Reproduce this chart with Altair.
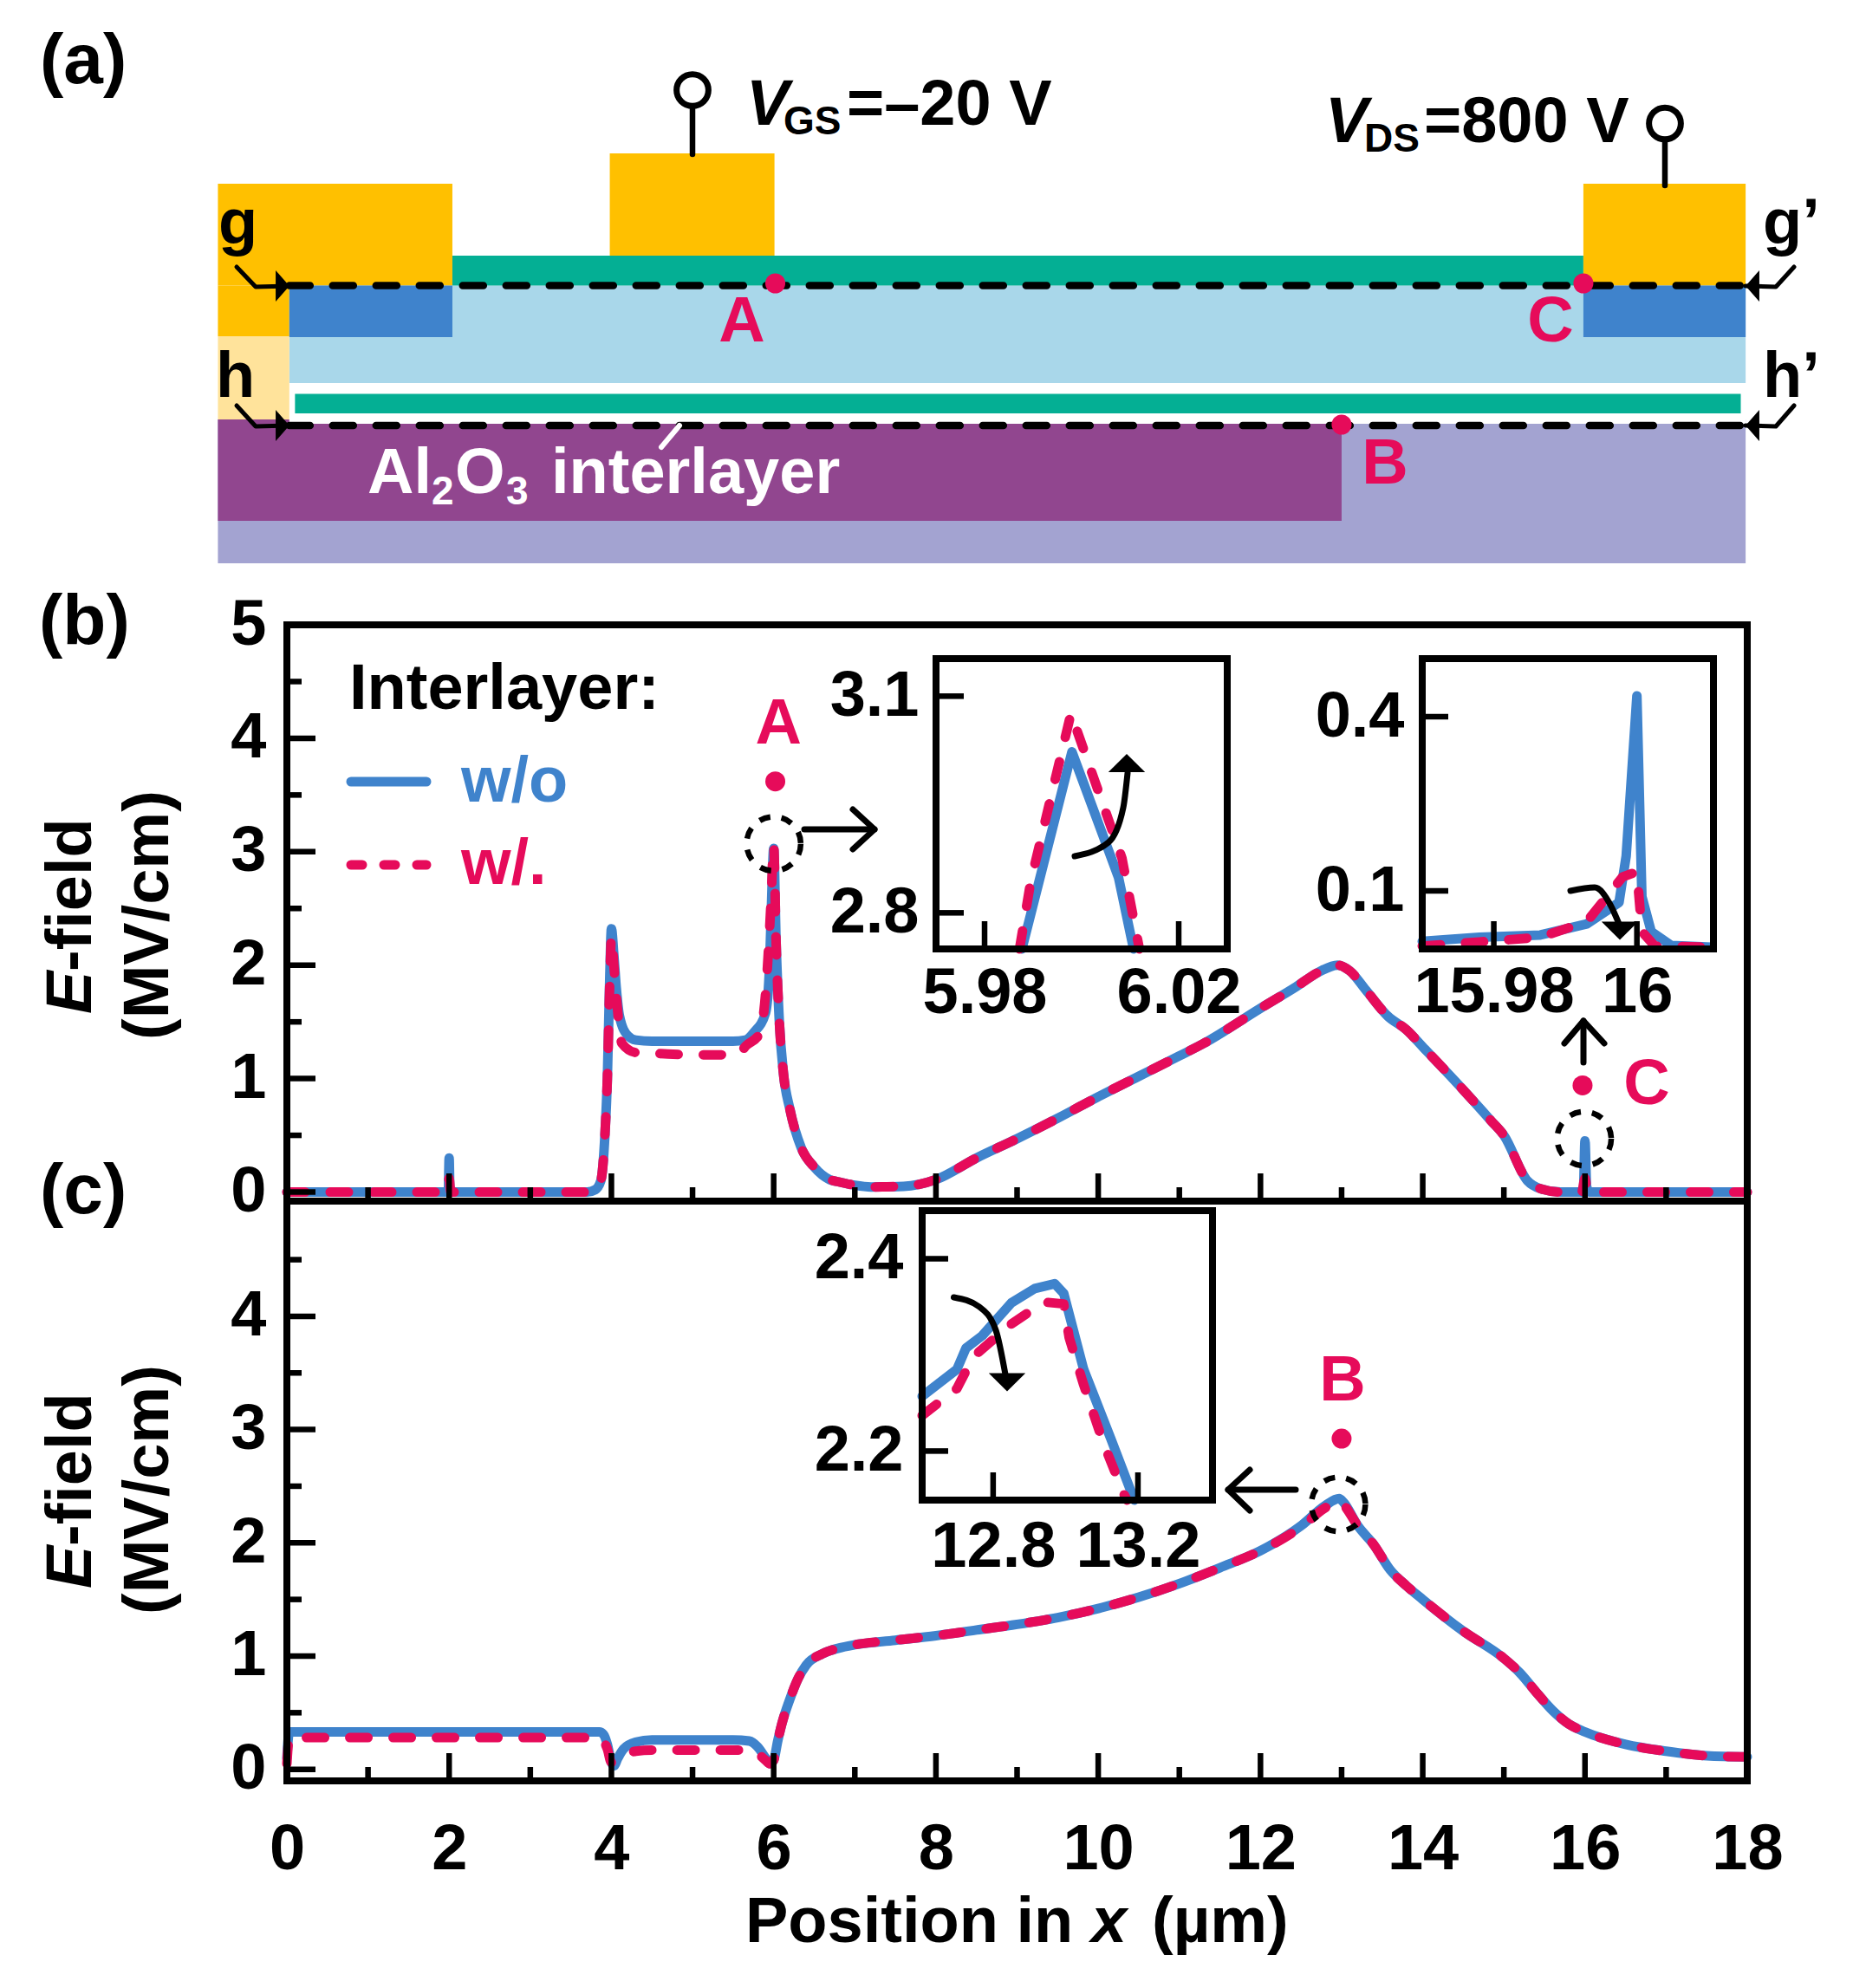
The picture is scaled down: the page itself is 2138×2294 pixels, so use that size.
import altair as alt
import pandas as pd

W, H = 2122, 2278
OFF = 8
FONT = "Liberation Sans"
BLUE, PINK = "#3F83CC", "#E60B5A"

# ---------- panel (b): field along g-g' ----------
b_x_wo = [0,1.97,1.99,2.0,2.01,2.03,3,3.7,3.8,3.87,3.92,3.95,3.98,4.0,4.03,4.06,4.1,4.2,4.3,4.5,5,5.5,5.65,5.76,5.9,5.95,5.98,6.0,6.03,6.07,6.12,6.2,6.34,6.5,6.69,6.8,7,7.2,7.6,8,8.5,9,9.5,10,10.5,11,11.3,12,12.44,12.72,12.95,13.1,13.3,13.57,13.8,14,14.5,14.84,15,15.29,15.45,15.7,15.96,15.98,16.0,16.02,16.05,17,18]
b_y_wo = [0,0,0,0.3,0,0,0,0,0.02,0.1,0.5,1.0,1.9,2.32,2.09,1.8,1.55,1.38,1.34,1.33,1.33,1.33,1.34,1.41,1.58,2.0,2.7,3.03,2.2,1.5,1.05,0.73,0.39,0.22,0.11,0.09,0.06,0.045,0.05,0.11,0.3,0.47,0.65,0.84,1.02,1.2,1.31,1.62,1.81,1.94,2.0,1.95,1.78,1.55,1.43,1.28,0.9,0.63,0.5,0.1,0.03,0,0,0,0.45,0.05,0,0,0]
b_x_w = [0,1.98,2.0,2.02,3,3.7,3.8,3.87,3.92,3.95,3.98,4.0,4.03,4.07,4.13,4.3,4.6,5,5.4,5.55,5.66,5.83,5.9,5.97,6.0,6.03,6.07,6.12,6.2,6.34,6.5,6.69,6.8,7,7.2,7.6,8,8.5,9,9.5,10,10.5,11,11.3,12,12.44,12.72,12.95,13.1,13.3,13.57,13.8,14,14.5,14.84,15,15.29,15.45,15.7,15.96,16.0,16.03,17,18]
b_y_w = [0,0,0.12,0,0,0,0.02,0.1,0.5,1.0,1.85,2.25,2.0,1.65,1.31,1.23,1.22,1.21,1.21,1.21,1.29,1.4,1.75,2.6,3.06,2.2,1.5,1.05,0.73,0.39,0.22,0.11,0.09,0.06,0.045,0.05,0.11,0.3,0.47,0.65,0.84,1.02,1.2,1.31,1.62,1.81,1.94,2.0,1.95,1.78,1.55,1.43,1.28,0.9,0.63,0.5,0.1,0.03,0,0,0.12,0,0,0]

# ---------- panel (c): field along h-h' ----------
c_x_wo = [0,0.03,0.1,1,2,3,3.85,3.9,3.95,4.0,4.03,4.08,4.15,4.3,4.5,5,5.5,5.7,5.8,5.9,5.95,6.0,6.05,6.1,6.2,6.3,6.4,6.6,6.8,7,7.5,8,8.5,9,9.5,10,10.5,11,11.5,12,12.5,12.8,12.97,13.02,13.2,13.4,13.6,13.8,14,14.5,15,15.2,15.4,15.6,15.8,16,16.5,17,17.5,18]
c_y_wo = [0.1,0.33,0.33,0.33,0.33,0.33,0.33,0.31,0.22,0.06,0.03,0.1,0.18,0.24,0.26,0.26,0.26,0.25,0.2,0.1,0.05,0.08,0.25,0.4,0.62,0.8,0.92,1.02,1.07,1.1,1.14,1.18,1.23,1.28,1.34,1.42,1.52,1.64,1.78,1.93,2.15,2.33,2.39,2.36,2.15,1.98,1.76,1.62,1.5,1.22,0.98,0.85,0.68,0.52,0.4,0.33,0.22,0.16,0.12,0.11]
c_x_w = [0,0.03,0.1,1,2,3,3.85,3.95,4.0,4.05,4.15,4.3,4.5,5,5.5,5.7,5.8,5.9,5.95,6.0,6.05,6.1,6.2,6.3,6.4,6.6,6.8,7,7.5,8,8.5,9,9.5,10,10.5,11,11.5,12,12.5,12.8,12.97,13.02,13.2,13.4,13.6,13.8,14,14.5,15,15.2,15.4,15.6,15.8,16,16.5,17,17.5,18]
c_y_w = [0.05,0.28,0.28,0.28,0.28,0.28,0.28,0.18,0.06,0.07,0.12,0.16,0.17,0.17,0.17,0.17,0.14,0.08,0.05,0.08,0.25,0.4,0.62,0.8,0.92,1.02,1.07,1.1,1.14,1.18,1.23,1.28,1.34,1.42,1.52,1.64,1.78,1.93,2.14,2.31,2.37,2.34,2.15,1.98,1.76,1.62,1.5,1.22,0.98,0.85,0.68,0.52,0.4,0.33,0.22,0.16,0.12,0.11]

# ---------- insets ----------
i1_x_wo = [5.9877,5.998,6.0076,6.0107]
i1_y_wo = [2.75,3.023,2.849,2.75]
i1_x_w = [5.9872,5.9895,5.9978,6.0083,6.0119]
i1_y_w = [2.75,2.843,3.076,2.876,2.75]
i2_x_wo = [15.97,15.978,15.9865,15.993,15.9975,15.9985,16.0,16.0007,16.002,16.0048,16.0105]
i2_y_wo = [0.013,0.02,0.024,0.043,0.08,0.16,0.436,0.09,0.03,0.006,0.003]
i2_x_w = [15.97,15.978,15.9865,15.993,15.998,16.0,16.0007,16.0025,16.0105]
i2_y_w = [0.005,0.012,0.02,0.047,0.124,0.133,0.03,0.005,0.003]
i3_x_wo = [12.604,12.70,12.725,12.77,12.85,12.915,12.97,12.995,13.05,13.125,13.19]
i3_y_wo = [2.257,2.285,2.307,2.32,2.354,2.369,2.374,2.364,2.285,2.213,2.149]
i3_x_w = [12.604,12.70,12.745,12.85,12.94,12.995,13.01,13.05,13.105,13.16,13.17]
i3_y_w = [2.237,2.265,2.298,2.332,2.355,2.353,2.318,2.269,2.208,2.156,2.149]

# ---------- schematic layers: x in um, y in page rows ----------
rect_left   = [-0.85,-0.85,0.03,0.03,0.1,-0.85,-0.85,-0.85,3.98,2.04,15.98,0.03,15.98]
rect_right  = [17.98,13,17.98,17.98,17.92,2.04,0.03,0.03,6.01,15.98,17.98,2.04,17.98]
rect_top    = [484,484,329.5,442,454.5,212,329.5,388,177,295,212,329.5,329.5]
rect_bottom = [650,601,442,489,477,329.5,388,484,295,329.5,329.5,389,389]
rect_colour = ["#A3A3D1","#91468F","#A9D7EA","#FFFFFF","#04AF94","#FFC000","#FFC000","#FFE39B","#FFC000","#04AF94","#FFC000","#3F83CC","#3F83CC"]


def cx():
    return alt.Scale(domain=[OFF, W + OFF], range=[0, W], nice=False, zero=False)


def cy():
    return alt.Scale(domain=[OFF, H + OFF], range=[0, H], nice=False, zero=False)


def sc(dom, p0, p1):
    return alt.Scale(domain=dom, range=[p0 - OFF, p1 - OFF], nice=False, zero=False)


def frame_xy(xs, ys):
    return pd.DataFrame({"x": xs, "y": ys, "i": range(len(xs))})


def label(text, x, y, size=74, color="black", style="normal", angle=0, align="left", weight="bold"):
    return alt.Chart(alt.Data(values=[{"t": text}])).mark_text(
        font=FONT, fontSize=size, fontWeight=weight, fontStyle=style, color=color,
        angle=angle, align=align, baseline="alphabetic",
    ).encode(x=alt.value(x - OFF), y=alt.value(y - OFF), text="t:N")


def poly(xs, ys, width=7, color="black", interp="linear", dash=None, xs_scale=None, ys_scale=None):
    kw = dict(color=color, strokeWidth=width, interpolate=interp, strokeCap="round", strokeJoin="round")
    if dash:
        kw["strokeDash"] = dash
    return alt.Chart(frame_xy(xs, ys)).mark_line(**kw).encode(
        x=alt.X("x:Q", scale=xs_scale or cx(), axis=None),
        y=alt.Y("y:Q", scale=ys_scale or cy(), axis=None),
        order="i:Q",
    )


def series(xs, ys, sx, sy, wo, interp="monotone"):
    if wo:
        return poly(xs, ys, 11, BLUE, interp, None, sx, sy)
    return poly(xs, ys, 11, PINK, interp, [21, 29], sx, sy)


def dots(xs, ys, sx, sy, size=415, **kw):
    return alt.Chart(frame_xy(xs, ys)).mark_point(size=size, **kw).encode(
        x=alt.X("x:Q", scale=sx, axis=None), y=alt.Y("y:Q", scale=sy, axis=None))


def pink_dot(x, y, sx, sy):
    return dots([x], [y], sx, sy, 530, filled=True, color=PINK, opacity=1, strokeWidth=0)


def ring(x, y, sx, sy):
    return dots([x], [y], sx, sy, 3900, filled=False, color="black", opacity=1, strokeWidth=6.5,
                strokeDash=[13, 13], shape="circle")


def axis(vals, orient, offset, pad, fmt):
    return alt.Axis(values=vals, orient=orient, offset=offset, ticks=False, domain=False, grid=False,
                    title=None, labelFont=FONT, labelFontSize=74, labelFontWeight="bold", labelColor="black",
                    labelPadding=pad, labelOverlap=False, labelFlush=False, labelBound=False, labelLimit=0,
                    format=fmt)


def vticks(vals, sx, y0, ln, ax=None):
    return alt.Chart(pd.DataFrame({"v": vals})).mark_rule(color="black", strokeWidth=6.5).encode(
        x=alt.X("v:Q", scale=sx, axis=ax),
        y=alt.value(y0 - OFF), y2=alt.value(y0 - OFF - ln))


def hticks(vals, sy, x0, ln, ax=None):
    return alt.Chart(pd.DataFrame({"v": vals})).mark_rule(color="black", strokeWidth=6.5).encode(
        y=alt.Y("v:Q", scale=sy, axis=ax),
        x=alt.value(x0 - OFF), x2=alt.value(x0 - OFF + ln))


def box(x0, x1, y0, y1, sw):
    d = pd.DataFrame({"a": [x0], "b": [x1], "c": [y0], "d": [y1]})
    return alt.Chart(d).mark_rect(fillOpacity=0, stroke="black", strokeWidth=sw).encode(
        x=alt.X("a:Q", scale=cx(), axis=None), x2="b:Q",
        y=alt.Y("c:Q", scale=cy(), axis=None), y2="d:Q")


def arrow(shaft_x, shaft_y, head_x, head_y):
    return [poly(shaft_x, shaft_y), poly(head_x, head_y)]


UP = "M-1,0.5L0,-0.5L1,0.5Z"
RIGHT = "M-0.44,-1L0.44,0L-0.44,1Z"


def head(x, y, angle=0, shape=UP, size=1800):
    return alt.Chart(frame_xy([x], [y])).mark_point(
        shape=shape, size=size, filled=True, color="black", opacity=1, strokeWidth=0, angle=angle
    ).encode(x=alt.X("x:Q", scale=cx(), axis=None), y=alt.Y("y:Q", scale=cy(), axis=None))


layers = []

# ---------- schematic ----------
dx = sc([0, 18], 331, 2016)
rects = pd.DataFrame({"l": rect_left, "r": rect_right, "t": rect_top, "b": rect_bottom, "c": rect_colour, "i": range(len(rect_left))})
layers.append(alt.Chart(rects).mark_rect().encode(
    x=alt.X("l:Q", scale=dx, axis=None), x2="r:Q",
    y=alt.Y("t:Q", scale=cy(), axis=None), y2="b:Q",
    color=alt.Color("c:N", scale=None), order="i:Q"))
layers.append(poly([0.03, 17.98], [329.5, 329.5], 8.5, "black", "linear", [24, 26], dx))
layers.append(poly([0.03, 17.98], [491, 491], 8.5, "black", "linear", [24, 26], dx))
layers.append(poly([784, 763], [491, 516], 6, "white"))
# section-line hooks
for yy, top in [(330, 308), (491, 468)]:
    layers.append(poly([273, 295, 334], [top, yy + 1, yy], 5))
    layers.append(poly([2070, 2049, 2014], [top, yy + 1, yy], 5))
    layers.append(head(326, yy, 0, RIGHT, 1296))
    layers.append(head(2022, yy, 180, RIGHT, 1296))
layers.append(pink_dot(6.02, 327, dx, cy()))
layers.append(pink_dot(15.98, 327, dx, cy()))
layers.append(pink_dot(13.0, 490, dx, cy()))
# terminals
layers.append(poly([799, 799], [124, 178], 6.5))
layers.append(poly([1921, 1921], [161, 214], 6.5))
layers.append(dots([799, 1921], [104, 142.5], cx(), cy(), 1350, filled=False, color="black", opacity=1, strokeWidth=7))

for args in [
    ("(a)", 46, 96, 82), ("(b)", 45, 743, 82), ("(c)", 46, 1400, 82),
    ("g", 252, 281, 74), ("g\u2019", 2034, 281, 74), ("h", 249, 458, 74), ("h\u2019", 2034, 458, 74),
]:
    layers.append(label(*args))
layers.append(label("A", 856, 394, 74, PINK, align="center"))
layers.append(label("C", 1789, 394, 74, PINK, align="center"))
layers.append(label("B", 1598, 558, 74, PINK, align="center"))
layers.append(label("V", 861, 144, 74, style="italic"))
layers.append(label("GS", 904, 155, 46))
layers.append(label("=\u201320 V", 977, 144, 74))
layers.append(label("V", 1529, 164, 74, style="italic"))
layers.append(label("DS", 1574, 175, 46))
layers.append(label("=800 V", 1643, 164, 74))
layers.append(label("Al", 424, 569, 74, "white"))
layers.append(label("2", 498, 582, 46, "white"))
layers.append(label("O", 525, 569, 74, "white"))
layers.append(label("3", 584, 582, 46, "white"))
layers.append(label("interlayer", 636, 569, 74, "white"))

# ---------- panel (b) ----------
L, R, Tb, Mb, Bc = 331, 2016, 721, 1386, 2055
bx = sc([0, 18], L, R)
by = sc([-0.08, 5.0], Mb, Tb)
cxs = sc([0, 18], L, R)
cys = sc([-0.102, 5.017], Bc, Mb)

layers.append(series(b_x_wo, b_y_wo, bx, by, True))
layers.append(series(b_x_w, b_y_w, bx, by, False))
layers.append(box(L, R, Tb, Mb, 8))
layers.append(vticks([2, 4, 6, 8, 10, 12, 14, 16], bx, Mb, 32))
layers.append(vticks([1, 3, 5, 7, 9, 11, 13, 15, 17], bx, Mb, 16))
layers.append(hticks([0, 1, 2, 3, 4, 5], by, L, 33, axis([0, 1, 2, 3, 4, 5], "left", -(L - OFF), 24, "d")))
layers.append(hticks([0.5, 1.5, 2.5, 3.5, 4.5], by, L, 17))

# legend
layers.append(label("Interlayer:", 403, 818))
layers.append(poly([405, 492], [902, 902], 11, BLUE))
layers.append(poly([405, 492], [998, 998], 11, PINK, "linear", [13, 25]))
layers.append(label("w/o", 532, 925, 74, BLUE))
layers.append(label("w/.", 532, 1020, 74, PINK))

# marker annotations panel (b)
layers.append(label("A", 6.06 * 93.6 + 331, 858, 74, PINK, align="center"))
layers.append(pink_dot(6.02, 3.62, bx, by))
layers.append(ring(6.0, 3.07, bx, by))
layers += arrow([928, 1009], [957, 957], [984, 1009, 984], [934, 957, 980])
layers.append(pink_dot(15.97, 0.94, bx, by))
layers.append(label("C", 1900, 1274, 74, PINK, align="center"))
layers.append(ring(15.99, 0.47, bx, by))
layers += arrow([1827, 1827], [1226, 1178], [1805, 1827, 1851], [1204, 1178, 1204])

# ---------- panel (c) ----------
layers.append(series(c_x_wo, c_y_wo, cxs, cys, True))
layers.append(series(c_x_w, c_y_w, cxs, cys, False))
layers.append(box(L, R, Mb, Bc, 8))
layers.append(vticks(list(range(0, 19, 2)), cxs, Bc, 32, axis(list(range(0, 19, 2)), "bottom", Bc - OFF - H, 43, "d")))
layers.append(vticks(list(range(1, 18, 2)), cxs, Bc, 16))
layers.append(hticks([0, 1, 2, 3, 4], cys, L, 33, axis([0, 1, 2, 3, 4], "left", -(L - OFF), 24, "d")))
layers.append(hticks([0.5, 1.5, 2.5, 3.5, 4.5], cys, L, 17))
layers.append(label("B", 1549, 1616, 74, PINK, align="center"))
layers.append(pink_dot(13.0, 2.92, cxs, cys))
layers.append(ring(12.96, 2.34, cxs, cys))
layers += arrow([1495, 1417], [1719, 1719], [1442, 1417, 1442], [1696, 1719, 1743])

# ---------- inset 1 ----------
x1, y1 = sc([5.97, 6.03], 1080, 1416), sc([2.75, 3.152], 1095, 760)
layers.append(series(i1_x_wo, i1_y_wo, x1, y1, True, "linear"))
layers.append(series(i1_x_w, i1_y_w, x1, y1, False, "linear"))
layers.append(box(1080, 1416, 760, 1095, 8))
layers.append(vticks([5.98, 6.02], x1, 1095, 32, axis([5.98, 6.02], "bottom", 1095 - OFF - H, 15, ".2f")))
layers.append(hticks([2.8, 3.1], y1, 1080, 32, axis([2.8, 3.1], "left", -(1080 - OFF), 20, ".1f")))
layers.append(poly([1240, 1279, 1296, 1301], [988, 972, 932, 892], 7, "black", "monotone"))
layers.append(head(1300, 880.5))

# ---------- inset 2 ----------
x2, y2 = sc([15.97, 16.0107], 1641, 1977), sc([0, 0.5], 1095, 760)
layers.append(series(i2_x_wo, i2_y_wo, x2, y2, True, "linear"))
layers.append(series(i2_x_w, i2_y_w, x2, y2, False, "linear"))
layers.append(box(1641, 1977, 760, 1095, 8))
layers.append(vticks([15.98, 16], x2, 1095, 32, axis([15.98, 16], "bottom", 1095 - OFF - H, 14, ".2~f")))
layers.append(hticks([0.1, 0.4], y2, 1641, 30, axis([0.1, 0.4], "left", -(1641 - OFF), 21, ".1f")))
layers.append(poly([1812, 1840, 1858, 1868], [1028, 1024, 1044, 1066], 7, "black", "monotone"))
layers.append(head(1869, 1074, 180))

# ---------- inset 3 ----------
x3, y3 = sc([12.604, 13.406], 1064, 1399), sc([2.149, 2.45], 1731, 1397)
layers.append(series(i3_x_wo, i3_y_wo, x3, y3, True, "linear"))
layers.append(series(i3_x_w, i3_y_w, x3, y3, False, "linear"))
layers.append(box(1064, 1399, 1397, 1731, 8))
layers.append(vticks([12.8, 13.2], x3, 1731, 32, axis([12.8, 13.2], "bottom", 1731 - OFF - H, 18, ".1f")))
layers.append(hticks([2.2, 2.4], y3, 1064, 30, axis([2.2, 2.4], "left", -(1064 - OFF), 22, ".1f")))
layers.append(poly([1100.5, 1130, 1149, 1160], [1497, 1508, 1535, 1586], 7, "black", "monotone"))
layers.append(head(1162, 1595, 180))

# ---------- axis titles ----------
layers.append(label("Position in ", 860, 2241))
layers.append(label("x", 1259, 2241, style="italic"))
layers.append(label("(\u00b5m)", 1329, 2241))
for dy in (0, 663):
    layers.append(label("E", 105, 1170 + dy, 74, style="italic", angle=270))
    layers.append(label("-field", 105, 1121 + dy, 74, angle=270))
    layers.append(label("(MV/cm)", 194, 1200 + dy, 74, angle=270))

chart = alt.layer(*layers).resolve_scale(
    x="independent", y="independent"
).resolve_axis(x="independent", y="independent").properties(
    width=W, height=H, padding=0, background="white",
    autosize=alt.AutoSizeParams(type="none"),
).configure_view(stroke=None)

chart.save("out.html", embed_options={"renderer": "svg", "actions": False})
